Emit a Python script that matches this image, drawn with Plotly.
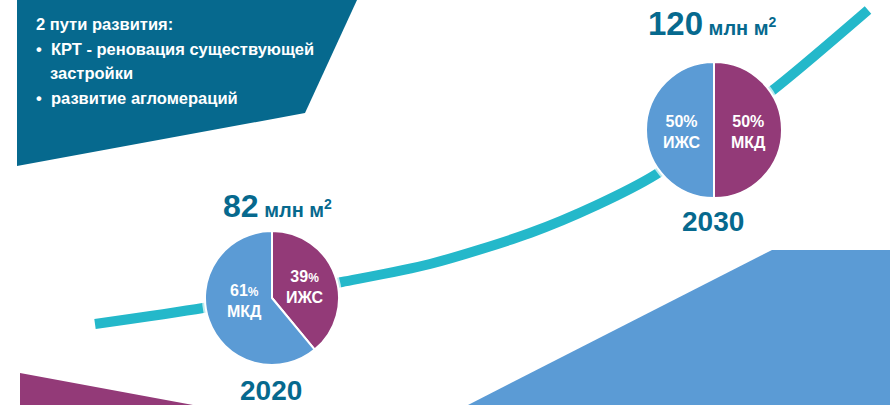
import plotly.graph_objects as go

W, H = 890, 405

# ---- data ----
years = ["2020", "2030"]
totals = [82, 120]
unit = "млн м"
shares_2020 = [39, 61]
labels_2020 = ["ИЖС", "МКД"]
shares_2030 = [50, 50]
labels_2030 = ["МКД", "ИЖС"]

headline = "2 пути развития:"
bullets = ["КРТ - реновация существующей", "застройки", "развитие агломераций"]

# decorative growth curve (drawn in a pixel-scaled axis)
curve_x = [95, 203, 272, 342, 430, 530, 597, 655, 714, 773, 868]
curve_y = [324, 308, 295, 282, 264, 233, 205, 175, 132, 90, 10]

# ---- styles ----
DARK = "#06698e"
TEAL = "#24b8ca"
BLUE = "#5b9bd5"
PURPLE = "#933a78"
SANS = "Liberation Sans, Arial, sans-serif"

pies = [
    dict(cx=272, cy=298, r=67, vals=shares_2020, labs=labels_2020),
    dict(cx=714, cy=130, r=68, vals=shares_2030, labs=labels_2030),
]

fig = go.Figure()

# growth curve
fig.add_trace(go.Scatter(x=curve_x, y=curve_y, mode="lines",
                         line=dict(color=TEAL, width=10, shape="spline", smoothing=0.8),
                         hoverinfo="skip", showlegend=False))
# white halos behind pies
fig.add_trace(go.Scatter(x=[p["cx"] for p in pies], y=[p["cy"] for p in pies], mode="markers",
                         marker=dict(color="white", size=[2 * (p["r"] + 3) for p in pies], line=dict(width=0)),
                         hoverinfo="skip", showlegend=False))

for p in pies:
    fig.add_trace(go.Pie(values=p["vals"], labels=p["labs"], sort=False, direction="clockwise",
                         rotation=0, textinfo="none", hoverinfo="skip", showlegend=False,
                         marker=dict(colors=[PURPLE, BLUE], line=dict(color="white", width=2)),
                         domain=dict(x=[(p["cx"] - p["r"]) / W, (p["cx"] + p["r"]) / W],
                                     y=[1 - (p["cy"] + p["r"]) / H, 1 - (p["cy"] - p["r"]) / H])))

shapes = [
    dict(type="path", path="M 17,0 L 357,0 L 305,113 L 17,166 Z", fillcolor=DARK,
         line=dict(width=0), xref="x", yref="y", layer="below"),
    dict(type="path", path="M 20,373 L 193,405 L 20,405 Z", fillcolor=PURPLE,
         line=dict(width=0), xref="x", yref="y", layer="below"),
    dict(type="path", path="M 468,405 L 772,250 L 890,250 L 890,405 Z", fillcolor=BLUE,
         line=dict(width=0), xref="x", yref="y", layer="below"),
]

ann = []
def A(x, y, text, size, color, xanchor="center"):
    ann.append(dict(x=x, y=y, xref="x", yref="y", text=text, showarrow=False,
                    xanchor=xanchor, yanchor="middle",
                    font=dict(size=size, color=color, family=SANS)))

# box text
A(34, 24, f"<b>{headline}</b>", 16.5, "white", "left")
A(34, 49, f"<b>•  {bullets[0]}</b>", 16.5, "white", "left")
A(48, 73, f"<b>{bullets[1]}</b>", 16.5, "white", "left")
A(34, 98, f"<b>•  {bullets[2]}</b>", 16.5, "white", "left")

# totals & years
A(277, 206, f"<b><span style='font-size:32px'>{totals[0]}</span> {unit}<sup>2</sup></b>", 20, DARK)
A(271, 390, f"<b>{years[0]}</b>", 28, DARK)
A(712, 23, f"<b><span style='font-size:33px'>{totals[1]}</span> {unit}<sup>2</sup></b>", 20, DARK)
A(713, 221, f"<b>{years[1]}</b>", 28, DARK)

# pie labels
A(305, 287, f"<b>{shares_2020[0]}<span style='font-size:12px'>%</span><br>{labels_2020[0]}</b>", 16, "white")
A(244, 301, f"<b>{shares_2020[1]}<span style='font-size:12px'>%</span><br>{labels_2020[1]}</b>", 16, "white")
A(748, 132, f"<b>{shares_2030[0]}%<br>{labels_2030[0]}</b>", 16, "white")
A(682, 132, f"<b>{shares_2030[1]}%<br>{labels_2030[1]}</b>", 16, "white")

fig.update_layout(
    width=W, height=H, margin=dict(l=0, r=0, t=0, b=0),
    paper_bgcolor="white", plot_bgcolor="white",
    xaxis=dict(range=[0, W], visible=False, fixedrange=True),
    yaxis=dict(range=[H, 0], visible=False, fixedrange=True),
    shapes=shapes, annotations=ann, showlegend=False,
)

fig.write_html("out.html", config={"displayModeBar": False})
